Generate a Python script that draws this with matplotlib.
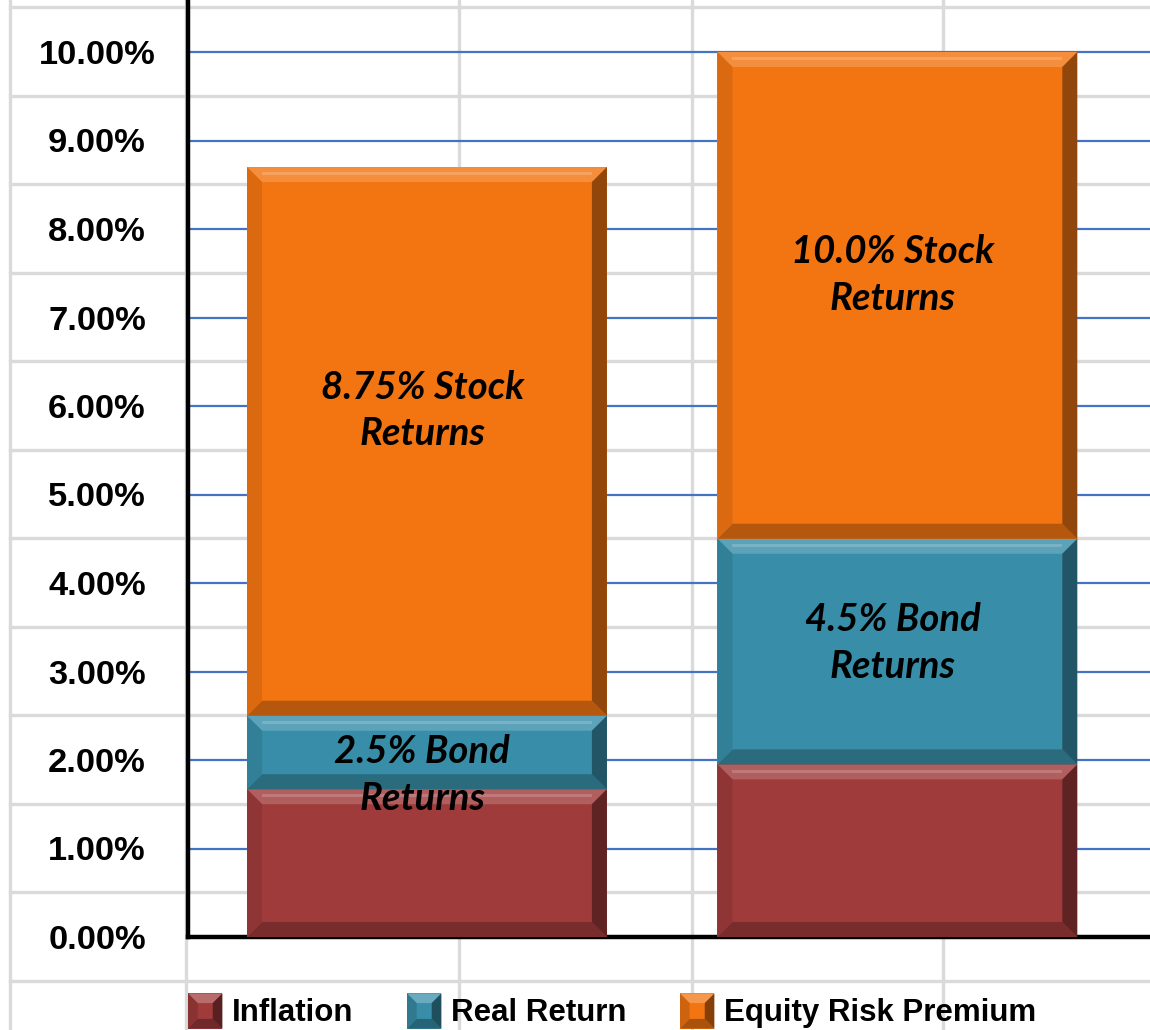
import numpy as np
import matplotlib
matplotlib.use("Agg")
import matplotlib.pyplot as plt
from matplotlib.patches import Patch, Polygon, Rectangle
from matplotlib.legend_handler import HandlerBase
from matplotlib.font_manager import FontProperties, findfont
from matplotlib.colors import to_rgb

# ---------------- data ----------------
categories = ["Bonds 2.5%", "Bonds 4.5%"]
series_names = ["Inflation", "Real Return", "Equity Risk Premium"]
inflation = [1.67, 1.95]
real_return = [0.83, 2.55]
equity_risk_premium = [6.2, 5.5]
series_colors = ["#A03B3B", "#388EA8", "#F27512"]
ytick_values = list(range(0, 11))
ytick_labels = [f"{v:.2f}%" for v in ytick_values]
annotations = [
    (0, "8.75% Stock\nReturns", 5.95),
    (0, "2.5% Bond\nReturns", 1.83),
    (1, "10.0% Stock\nReturns", 7.48),
    (1, "4.5% Bond\nReturns", 3.32),
]

# ---------------- fonts ----------------
def pick_italic_bold(cands):
    for f in cands:
        try:
            p = findfont(FontProperties(family=f, style="italic", weight="bold"),
                         fallback_to_default=False)
            low = p.lower()
            if ("italic" in low or "oblique" in low) and f.split()[0].lower() in low.replace(" ", "").replace("-", "").replace("_", "") :
                return f
        except Exception:
            pass
    return "DejaVu Sans"

label_family = pick_italic_bold(["Lato", "Open Sans", "Noto Sans", "Liberation Sans", "DejaVu Sans"])
sans_bold = ["Liberation Sans", "DejaVu Sans"]

W, H = 1150, 1030
fig = plt.figure(figsize=(W / 100, H / 100), dpi=100)
fig.patch.set_facecolor("white")

# ---------------- spreadsheet-cell background ----------------
bg = fig.add_axes([0, 0, 1, 1], zorder=-5)
bg.set_xlim(0, W)
bg.set_ylim(H, 0)
bg.axis("off")
for yy in np.arange(7, H + 1, 88.5):
    bg.axhline(yy, xmin=10 / W, xmax=1, color="#DADADA", lw=2.4)
for xx in [10, 186, 459, 692, 943]:
    bg.axvline(xx, color="#DADADA", lw=2.4)

# ---------------- main axes ----------------
ax_left_px, ax_right_px, ax_bottom_px, ax_top_px = 188, 1150, 937, 0
ax = fig.add_axes([ax_left_px / W, (H - ax_bottom_px) / H,
                   (ax_right_px - ax_left_px) / W, (ax_bottom_px - ax_top_px) / H])
ax.set_facecolor("none")
px_per_pct = 88.5
ax.set_ylim(0, (ax_bottom_px - ax_top_px) / px_per_pct)
ax.set_xlim(-0.508, 1.537)

x = np.arange(len(categories))
bar_width = 0.765
series = [inflation, real_return, equity_risk_premium]

dx_px = (ax.get_xlim()[1] - ax.get_xlim()[0]) / (ax_right_px - ax_left_px)
dy_px = (ax.get_ylim()[1] - ax.get_ylim()[0]) / (ax_bottom_px - ax_top_px)


def mix(c, other, t):
    c = np.array(to_rgb(c))
    o = np.array(to_rgb(other))
    return tuple(c * (1 - t) + o * t)


def bevel(axis, x0, y0, w, h, color, bpx=15, zorder=3):
    bx = min(bpx * dx_px, w / 3)
    by = min(bpx * dy_px, h / 3)
    x1, y1 = x0 + w, y0 + h
    faces = [
        ([(x0, y1), (x1, y1), (x1 - bx, y1 - by), (x0 + bx, y1 - by)], mix(color, "white", 0.18)),
        ([(x0, y0), (x1, y0), (x1 - bx, y0 + by), (x0 + bx, y0 + by)], mix(color, "black", 0.25)),
        ([(x0, y0), (x0, y1), (x0 + bx, y1 - by), (x0 + bx, y0 + by)], mix(color, "black", 0.10)),
        ([(x1, y0), (x1, y1), (x1 - bx, y1 - by), (x1 - bx, y0 + by)], mix(color, "black", 0.40)),
    ]
    for pts, fc in faces:
        axis.add_patch(Polygon(pts, closed=True, facecolor=fc, edgecolor="none", zorder=zorder))
    # thin highlight line near top
    axis.add_patch(Rectangle((x0 + bx, y1 - by * 0.55), w - 2 * bx, by * 0.2,
                             facecolor=mix(color, "white", 0.32), edgecolor="none", zorder=zorder))


bottoms = np.zeros(len(categories))
for vals, name, col in zip(series, series_names, series_colors):
    bars = ax.bar(x, vals, bar_width, bottom=bottoms, color=col, label=name, zorder=2,
                  edgecolor="none")
    for b in bars:
        bevel(ax, b.get_x(), b.get_y(), b.get_width(), b.get_height(), col)
    bottoms = bottoms + np.array(vals)

for xi, txt, yv in annotations:
    ax.text(x[xi] - 0.01, yv, txt, ha="center", va="center", fontsize=27.5, fontweight="bold",
            fontstyle="italic", family=label_family, color="black", linespacing=1.4, zorder=6)

# axes styling
ax.set_yticks(ytick_values)
ax.set_yticklabels(ytick_labels)
ax.set_xticks([])
ax.tick_params(axis="y", length=0, pad=65.5)
for lab in ax.get_yticklabels():
    lab.set_ha("center")
    lab.set_fontproperties(FontProperties(family=sans_bold, weight="bold", size=24.8))
ax.yaxis.grid(True, color="#4472C4", lw=1.6)
ax.set_axisbelow(True)
for s in ["top", "right"]:
    ax.spines[s].set_visible(False)
ax.spines["left"].set_linewidth(3.2)
ax.spines["bottom"].set_linewidth(3.2)
ax.spines["left"].set_zorder(7)
ax.spines["bottom"].set_zorder(1)


# ---------------- legend ----------------
class BevelHandler(HandlerBase):
    def create_artists(self, legend, orig_handle, xdescent, ydescent, width, height,
                       fontsize, trans):
        col = orig_handle.get_facecolor()
        x0, y0 = -xdescent, -ydescent
        b = min(width, height) * 0.28
        x1, y1 = x0 + width, y0 + height
        arts = [Rectangle((x0, y0), width, height, facecolor=col, edgecolor="none")]
        faces = [
            ([(x0, y1), (x1, y1), (x1 - b, y1 - b), (x0 + b, y1 - b)], mix(col[:3], "white", 0.25)),
            ([(x0, y0), (x1, y0), (x1 - b, y0 + b), (x0 + b, y0 + b)], mix(col[:3], "black", 0.3)),
            ([(x0, y0), (x0, y1), (x0 + b, y1 - b), (x0 + b, y0 + b)], mix(col[:3], "black", 0.15)),
            ([(x1, y0), (x1, y1), (x1 - b, y1 - b), (x1 - b, y0 + b)], mix(col[:3], "black", 0.45)),
        ]
        for pts, fc in faces:
            arts.append(Polygon(pts, closed=True, facecolor=fc, edgecolor="none"))
        for a in arts:
            a.set_transform(trans)
        return arts


handles = [Patch(facecolor=c) for c in series_colors]
fig.legend(handles, series_names, loc="center left",
           bbox_to_anchor=(188 / W, 1 - 1011 / H), ncol=3, frameon=False,
           prop=FontProperties(family=sans_bold, weight="bold", size=22.5),
           handlelength=1.1, handleheight=1.35, handletextpad=0.32, columnspacing=1.7,
           borderpad=0, borderaxespad=0, handler_map={Patch: BevelHandler()})

fig.savefig("out.png", dpi=100, facecolor="white")
